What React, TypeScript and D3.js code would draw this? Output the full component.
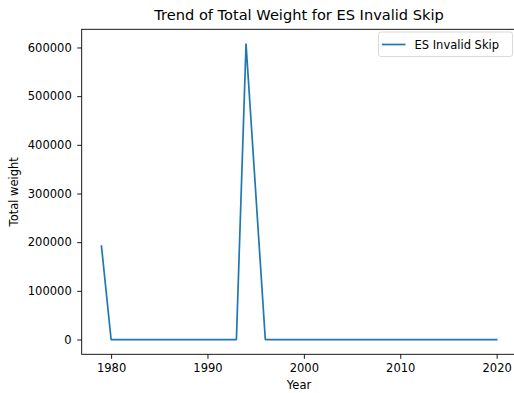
import { useEffect, useRef } from "react"
import * as d3 from "d3"

// data
const years = [1979, 1980, 1993, 1994, 1996, 2020]
const totalWeight = [192000, 0, 0, 607000, 0, 0]
const xTicks = [1980, 1990, 2000, 2010, 2020]
const yTicks = [0, 100000, 200000, 300000, 400000, 500000, 600000]
const seriesName = "ES Invalid Skip"

const W = 514
const H = 393

export default function App() {
  const svgRef = useRef<SVGSVGElement>(null)

  useEffect(() => {
    if (!svgRef.current) return
    const svg = d3.select(svgRef.current)
    svg.selectAll("*").remove()

    const left = 81.7
    const right = 516.4
    const top = 29.3
    const bottom = 354.3
    const font = "DejaVu Sans, sans-serif"

    const xMin = d3.min(years)!
    const xMax = d3.max(years)!
    const xPad = (xMax - xMin) * 0.05
    const yMax = d3.max(totalWeight)!
    const yPad = yMax * 0.05

    const x = d3.scaleLinear().domain([xMin - xPad, xMax + xPad]).range([left, right])
    const y = d3.scaleLinear().domain([-yPad, yMax + yPad]).range([bottom, top])

    svg.append("rect").attr("width", W).attr("height", H).attr("fill", "#fff")

    // line
    const line = d3
      .line<number>()
      .x((_, i) => x(years[i]))
      .y(d => y(d))
    svg
      .append("path")
      .datum(totalWeight)
      .attr("d", line)
      .attr("fill", "none")
      .attr("stroke", "#1f77b4")
      .attr("stroke-width", 1.7)
      .attr("stroke-linejoin", "round")
      .attr("stroke-linecap", "square")

    // spines
    svg
      .append("rect")
      .attr("x", left)
      .attr("y", top)
      .attr("width", right - left)
      .attr("height", bottom - top)
      .attr("fill", "none")
      .attr("stroke", "#000")
      .attr("stroke-width", 0.9)

    // x axis
    const gx = svg
      .append("g")
      .attr("transform", `translate(0,${bottom})`)
      .call(d3.axisBottom(x).tickValues(xTicks).tickFormat(d3.format("d")).tickSize(4.5).tickPadding(5.5))
    gx.select(".domain").remove()
    gx.selectAll("line").attr("stroke", "#000").attr("stroke-width", 0.9)
    gx.selectAll("text").attr("fill", "#000").style("font-family", font).style("font-size", "11.5px")

    // y axis
    const gy = svg
      .append("g")
      .attr("transform", `translate(${left},0)`)
      .call(d3.axisLeft(y).tickValues(yTicks).tickFormat(d3.format("d")).tickSize(4.5).tickPadding(5.5))
    gy.select(".domain").remove()
    gy.selectAll("line").attr("stroke", "#000").attr("stroke-width", 0.9)
    gy.selectAll("text").attr("fill", "#000").style("font-family", font).style("font-size", "11.5px")

    // title and labels
    const cx = (left + right) / 2
    svg
      .append("text")
      .attr("x", cx)
      .attr("y", 20)
      .attr("text-anchor", "middle")
      .style("font-family", font)
      .style("font-size", "14.6px")
      .text(`Trend of Total Weight for ${seriesName}`)

    svg
      .append("text")
      .attr("x", cx)
      .attr("y", 388.5)
      .attr("text-anchor", "middle")
      .style("font-family", font)
      .style("font-size", "11.5px")
      .text("Year")

    svg
      .append("text")
      .attr("transform", `translate(17.5,${(top + bottom) / 2}) rotate(-90)`)
      .attr("text-anchor", "middle")
      .style("font-family", font)
      .style("font-size", "11.5px")
      .text("Total weight")

    // legend
    const lg = svg.append("g")
    lg.append("rect")
      .attr("x", 378.5)
      .attr("y", 32)
      .attr("width", 134)
      .attr("height", 24.5)
      .attr("rx", 2.5)
      .attr("fill", "#fff")
      .attr("fill-opacity", 0.8)
      .attr("stroke", "#d6d6d6")
      .attr("stroke-width", 0.9)
    lg.append("line")
      .attr("x1", 382)
      .attr("x2", 405.5)
      .attr("y1", 44.5)
      .attr("y2", 44.5)
      .attr("stroke", "#1f77b4")
      .attr("stroke-width", 1.7)
    lg.append("text")
      .attr("x", 414.5)
      .attr("y", 48.8)
      .style("font-family", font)
      .style("font-size", "11.5px")
      .text(seriesName)
  }, [])

  return (
    <svg
      ref={svgRef}
      width={W}
      height={H}
      style={{ position: "absolute", left: 0, top: 0, display: "block" }}
    />
  )
}
